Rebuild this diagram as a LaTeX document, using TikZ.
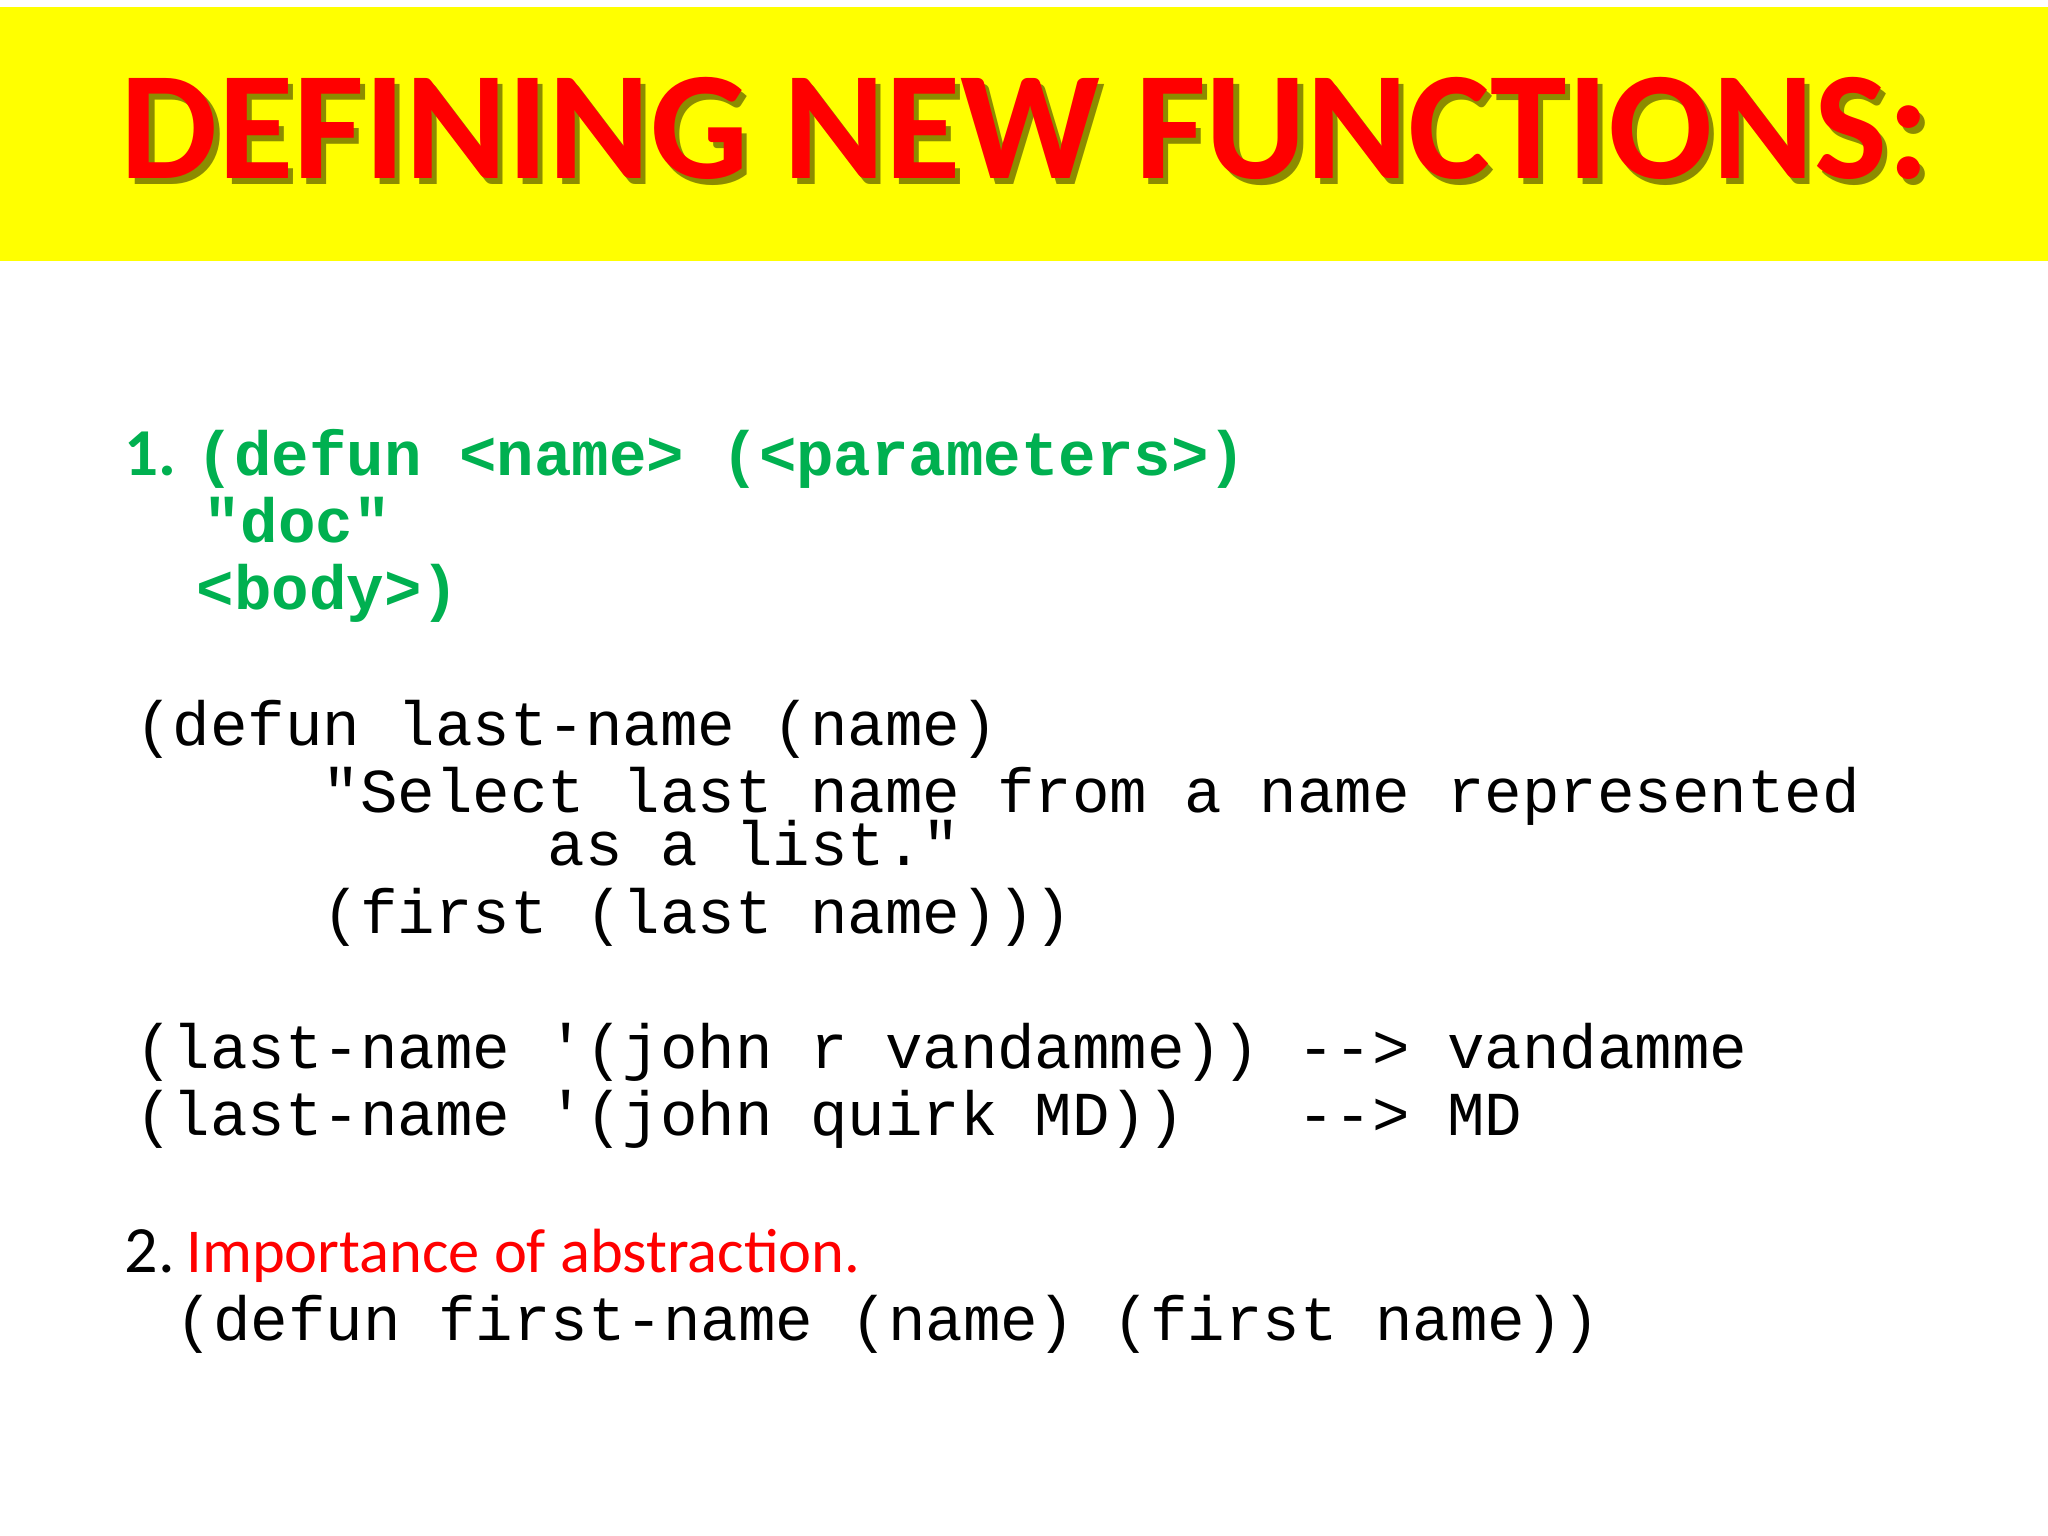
\documentclass[tikz,border=0pt]{standalone}
\usepackage{fontspec}
\setmainfont{Carlito}
\setmonofont{Liberation Mono}
\definecolor{ttlred}{HTML}{FF0000}
\definecolor{codegreen}{HTML}{00B050}
\definecolor{bandyellow}{HTML}{FFFF00}
\begin{document}
\begin{tikzpicture}[x=0.01cm,y=-0.01cm,
  code/.style={anchor=base west,inner sep=0,font=\ttfamily\fontsize{13.6}{16}\selectfont},
  gcode/.style={code,text=codegreen,font=\ttfamily\bfseries\fontsize{13.6}{16}\selectfont},
  body/.style={anchor=base west,inner sep=0,font=\fontsize{13.6}{17}\selectfont}]
\useasboundingbox (0,0) rectangle (1568,1176);
\fill[white] (0,0) rectangle (1568,1176);
\fill[bandyellow] (0,5) rectangle (1568,200);
\node[anchor=base,inner sep=0,text=black!45!bandyellow,font=\bfseries\fontsize{33.6}{36}\selectfont] at (789,141) {DEFINING NEW FUNCTIONS:};
\node (title) [anchor=base,inner sep=0,text=ttlred,font=\bfseries\fontsize{33.6}{36}\selectfont] at (785,137) {DEFINING NEW FUNCTIONS:};
\node (n1) [body,text=codegreen,font=\bfseries\fontsize{14.6}{17}\selectfont] at (95,364) {1.};
\node (g1) [gcode] at (150,364) {(defun <name> (<parameters>)};
\node (g2) [gcode] at (155,415) {"doc"};
\node (g3) [gcode] at (150,467) {<body>)};
\node (c1) [code] at (103,571) {(defun last-name (name)};
\node (c2) [code] at (103,622) {\ \ \ \ \ "Select last name from a name represented};
\node (c3) [code] at (103,663) {\ \ \ \ \ \ \ \ \ \ \ as a list."};
\node (c4) [code] at (103,715) {\ \ \ \ \ (first (last name)))};
\node (e1) [code] at (103,818) {(last-name '(john r vandamme)) --> vandamme};
\node (e2) [code] at (103,869) {(last-name '(john quirk MD))\ \ \ --> MD};
\node (n2) [body,font=\fontsize{14.4}{17}\selectfont] at (95,974) {2.};
\node (t2) [body,text=ttlred] at (142,974) {Importance of abstraction.};
\node (f1) [code] at (134,1026) {(defun first-name (name) (first name))};
\end{tikzpicture}
\end{document}
